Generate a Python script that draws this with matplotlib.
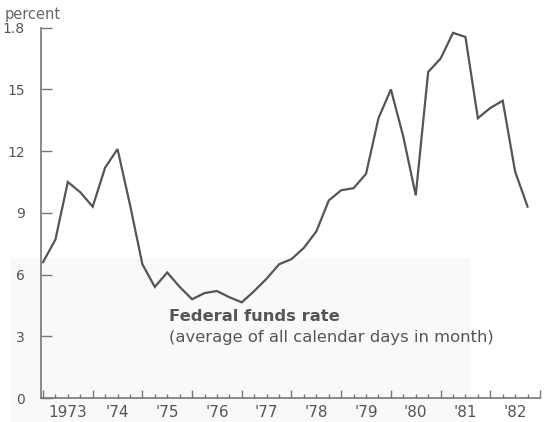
import matplotlib
matplotlib.use("Agg")
import matplotlib.pyplot as plt
from matplotlib.patches import Rectangle

# ---- data (quarterly averages, plotted at start of quarter) ----
years = list(range(1973, 1983))
quarters = [0.0, 0.25, 0.5, 0.75]
rate = [
    6.6, 7.7, 10.5, 10.0,     # 1973
    9.3, 11.2, 12.1, 9.4,     # 1974
    6.5, 5.4, 6.1, 5.4,       # 1975
    4.8, 5.1, 5.2, 4.9,       # 1976
    4.65, 5.2, 5.8, 6.5,      # 1977
    6.75, 7.3, 8.1, 9.6,      # 1978
    10.1, 10.2, 10.9, 13.6,   # 1979
    15.0, 12.7, 9.85, 15.85,  # 1980
    16.5, 17.75, 17.55, 13.6, # 1981
    14.1, 14.45, 11.0, 9.3,   # 1982
]
x_labels = ["1973", "'74", "'75", "'76", "'77", "'78", "'79", "'80", "'81", "'82"]
y_ticks = [0, 3, 6, 9, 12, 15, 18]
y_labels = ["0", "3", "6", "9", "12", "15", "1.8"]
title_main = "Federal funds rate"
title_sub = "(average of all calendar days in month)"
unit = "percent"

xs = [y + q for y in years for q in quarters]

W, H = 544, 422
fig = plt.figure(figsize=(W / 100, H / 100), dpi=100)
fig.patch.set_facecolor("white")

# faint scan-tone area
fig.patches.append(Rectangle((11 / W, 0), (471 - 11) / W, (H - 258) / H,
                             transform=fig.transFigure, facecolor="#f9f9f9",
                             edgecolor="none", zorder=-10))

left, right = 41 / W, 540 / W
bottom, top = (H - 398) / H, (H - 27.7) / H
ax = fig.add_axes([left, bottom, right - left, top - bottom])
ax.set_facecolor("none")
ax.set_zorder(1)

ax.plot(xs, rate, color="#555555", lw=1.6, solid_joinstyle="miter")

ax.set_xlim(1972.96, 1983.0)
ax.set_ylim(0, 18)

for s in ["top", "right"]:
    ax.spines[s].set_visible(False)
for s in ["left", "bottom"]:
    ax.spines[s].set_color("#777777")
    ax.spines[s].set_linewidth(1.2)

ax.set_yticks(y_ticks)
ax.set_yticklabels(y_labels)
ax.tick_params(axis="y", direction="in", length=8, width=1, color="#777777",
               pad=11.5, labelsize=10, labelcolor="#555555")

ax.set_xticks(list(range(1973, 1984)))
ax.set_xticklabels([])
ax.set_xticks([y + q for y in range(1973, 1983) for q in (0.25, 0.5, 0.75)], minor=True)
ax.tick_params(axis="x", which="major", direction="in", length=6, width=1, color="#777777")
ax.tick_params(axis="x", which="minor", direction="in", length=3, width=1, color="#777777")

for yr, lab in zip(years, x_labels):
    ax.annotate(lab, xy=(yr + 0.5, 0), xycoords=("data", "axes fraction"),
                xytext=(0, -10.6), textcoords="offset points",
                ha="center", va="center", fontsize=11, color="#555555")

fig.text(5 / W, 1 - 15 / H, unit, ha="left", va="center", fontsize=10.5, color="#666666")

fig.text(169 / W, 1 - 321 / H, title_main, ha="left", va="baseline",
         fontsize=11.8, fontweight="bold", color="#555555")
fig.text(169 / W, 1 - 342 / H, title_sub, ha="left", va="baseline",
         fontsize=11.8, color="#555555")

fig.savefig("out.png", dpi=100)
